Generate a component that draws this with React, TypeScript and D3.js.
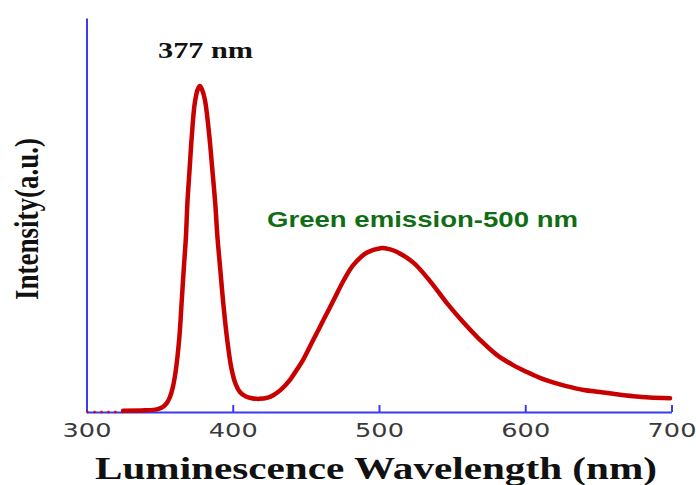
import React, { useEffect, useRef } from "react";
import * as d3 from "d3";

// Wavelength (nm) and intensity (a.u.)
const tailWavelengths = [300, 306, 312, 318, 325];
const tailIntensity = [0, 0, 0, 0, 0];

const wavelengths = [
  325, 340, 348, 352, 355, 357, 359, 361, 363.5, 365, 366.5, 368, 369, 370.5, 372, 374, 376, 377.5,
  379, 381, 384, 386, 388, 389.5, 391.5, 393.5, 396, 399, 402, 405, 409, 413, 418, 424, 428, 433,
  439, 444, 448, 455, 462, 469, 476, 482.5, 491.5, 501, 507, 512, 523.5, 535, 546, 557.5, 569,
  580.5, 592, 601, 610, 619, 628, 640, 651, 662.5, 674, 685, 699,
];
const intensity = [
  0.004, 0.005, 0.008, 0.015, 0.028, 0.045, 0.075, 0.125, 0.228, 0.33, 0.435, 0.535, 0.637, 0.74,
  0.84, 0.94, 0.982, 0.993, 0.982, 0.95, 0.84, 0.74, 0.637, 0.535, 0.433, 0.332, 0.228, 0.135,
  0.085, 0.06, 0.047, 0.042, 0.04, 0.044, 0.052, 0.068, 0.097, 0.13, 0.158, 0.219, 0.28, 0.341,
  0.402, 0.448, 0.485, 0.499, 0.496, 0.488, 0.455, 0.398, 0.334, 0.274, 0.22, 0.174, 0.142, 0.122,
  0.104, 0.09, 0.079, 0.067, 0.061, 0.054, 0.048, 0.044, 0.042,
];

const xTicks = [300, 400, 500, 600, 700];
const xTitle = "Luminescence Wavelength (nm)";
const yTitle = "Intensity(a.u.)";
const peakLabel = "377 nm";
const greenLabel = "Green emission-500 nm";

export default function App() {
  const ref = useRef<SVGSVGElement | null>(null);

  useEffect(() => {
    const svg = d3.select(ref.current);
    svg.selectAll("*").remove();

    const blue = "#3b3bf0";
    const red = "#c80000";
    const stretch = 1.28;

    const x = d3.scaleLinear().domain([300, 700]).range([86.5, 671.5]);
    const y = d3.scaleLinear().domain([0, 1.2]).range([412, 18]);

    const line = d3
      .line<[number, number]>()
      .x((d) => x(d[0]))
      .y((d) => y(d[1]))
      .curve(d3.curveCatmullRom.alpha(0.5));

    const tail: [number, number][] = tailWavelengths.map((w, i) => [w, tailIntensity[i]]);
    const main: [number, number][] = wavelengths.map((w, i) => [w, intensity[i]]);

    // axes
    const xAxis = d3
      .axisBottom(x)
      .tickValues(xTicks)
      .tickSizeInner(-7)
      .tickSizeOuter(0)
      .tickFormat((d) => String(d));
    const gx = svg.append("g").attr("transform", `translate(0,${y(0)})`).call(xAxis);
    gx.select(".domain").attr("stroke", blue).attr("stroke-width", 2);
    gx.selectAll(".tick line").attr("stroke", blue).attr("stroke-width", 2);
    gx.selectAll(".tick text")
      .attr("y", 25.3)
      .attr("dy", null)
      .attr("fill", "#3a3a3a")
      .attr("font-family", "DejaVu Sans, Verdana, sans-serif")
      .attr("font-size", 20)
      .attr("transform", `scale(${stretch},1)`);

    const yAxis = d3.axisLeft(y).tickValues([]).tickSizeOuter(0);
    const gy = svg.append("g").attr("transform", `translate(${x(300)},0)`).call(yAxis);
    gy.select(".domain").attr("stroke", blue).attr("stroke-width", 2);

    // curve
    svg
      .append("path")
      .datum(tail)
      .attr("d", line)
      .attr("fill", "none")
      .attr("stroke", red)
      .attr("stroke-width", 2.5)
      .attr("stroke-dasharray", "2,5");
    svg
      .append("path")
      .datum(main)
      .attr("d", line)
      .attr("fill", "none")
      .attr("stroke", red)
      .attr("stroke-width", 4.5)
      .attr("stroke-linejoin", "round")
      .attr("stroke-linecap", "round");

    // titles
    svg
      .append("text")
      .attr("x", 376)
      .attr("y", 478.5)
      .attr("text-anchor", "middle")
      .attr("font-family", "Liberation Serif, Times New Roman, serif")
      .attr("font-weight", "bold")
      .attr("font-size", 32)
      .attr("fill", "#111")
      .attr("textLength", 562)
      .attr("lengthAdjust", "spacingAndGlyphs")
      .text(xTitle);

    svg
      .append("text")
      .attr("transform", `translate(38,219) scale(${stretch},1) rotate(-90)`)
      .attr("text-anchor", "middle")
      .attr("font-family", "Liberation Serif, Times New Roman, serif")
      .attr("font-weight", "bold")
      .attr("font-size", 27)
      .attr("fill", "#111")
      .text(yTitle);

    svg
      .append("text")
      .attr("x", 205.5)
      .attr("y", 58)
      .attr("text-anchor", "middle")
      .attr("font-family", "Liberation Serif, Times New Roman, serif")
      .attr("font-weight", "bold")
      .attr("font-size", 24)
      .attr("fill", "#111")
      .attr("textLength", 95)
      .attr("lengthAdjust", "spacingAndGlyphs")
      .text(peakLabel);

    svg
      .append("text")
      .attr("x", 267)
      .attr("y", 227)
      .attr("font-family", "Liberation Sans, Arial, sans-serif")
      .attr("font-weight", "bold")
      .attr("font-size", 22)
      .attr("fill", "#0f6e14")
      .attr("textLength", 311)
      .attr("lengthAdjust", "spacingAndGlyphs")
      .text(greenLabel);
  }, []);

  return (
    <svg
      ref={ref}
      width={696}
      height={485}
      style={{ position: "absolute", left: 0, top: 0, background: "#fff" }}
    />
  );
}
